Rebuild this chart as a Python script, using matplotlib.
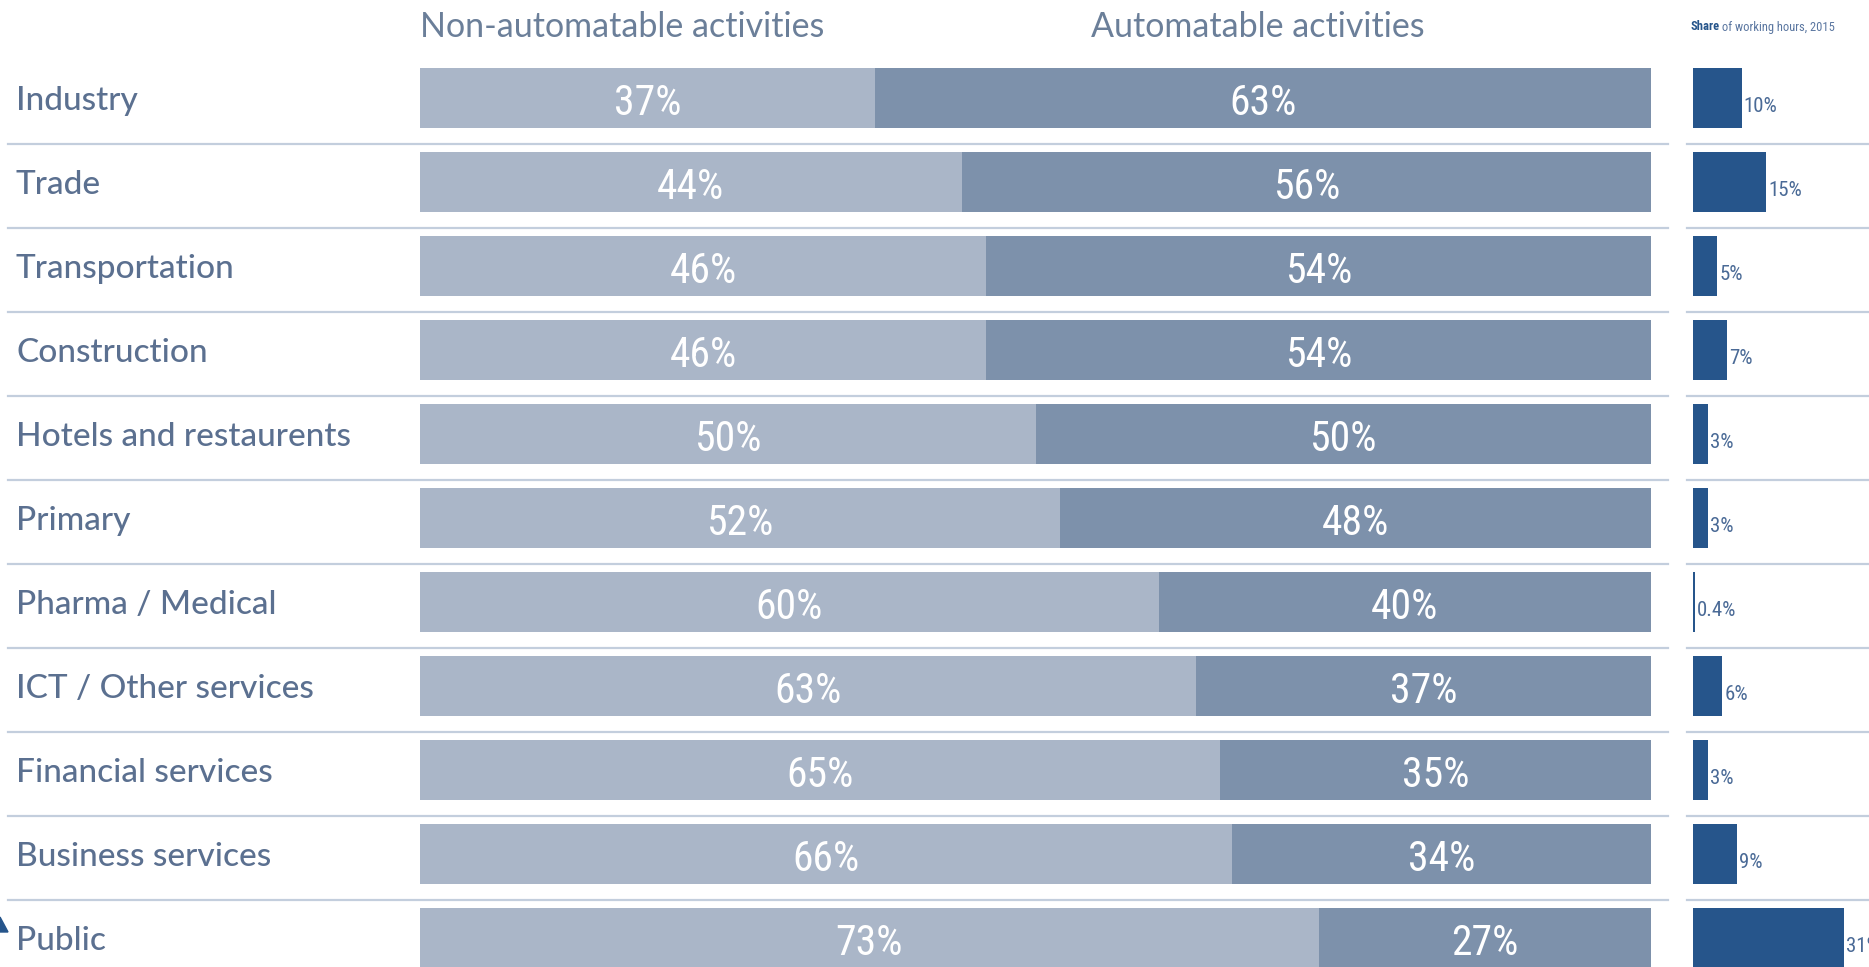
import matplotlib
matplotlib.use('Agg')
import matplotlib.pyplot as plt
import matplotlib.transforms as mtransforms
from matplotlib.patches import Polygon

categories = ['Industry', 'Trade', 'Transportation', 'Construction',
              'Hotels and restaurents', 'Primary', 'Pharma / Medical',
              'ICT / Other services', 'Financial services',
              'Business services', 'Public']
non_auto = [37, 44, 46, 46, 50, 52, 60, 63, 65, 66, 73]
auto = [63, 56, 54, 54, 50, 48, 40, 37, 35, 34, 27]
share_hours = [10, 15, 5, 7, 3, 3, 0.4, 6, 3, 9, 31]
share_labels = ['10%', '15%', '5%', '7%', '3%', '3%', '0.4%', '6%', '3%', '9%', '31%']
headers = ['Non-automatable activities', 'Automatable activities']

light = '#aab6c8'
dark = '#7d91ab'
navy = '#26558b'
text_col = '#5b7090'
line_col = '#c3cedd'
narrow = ['Roboto Condensed', 'Liberation Sans Narrow', 'DejaVu Sans']

W, H = 1869, 967
fig = plt.figure(figsize=(W / 100, H / 100), dpi=100)

rows = list(range(len(categories)))
ax = fig.add_axes([420 / W, 1 - 980 / H, 1231 / W, (980 - 55.7) / H])
ax.barh(rows, non_auto, height=0.71, color=light)
ax.barh(rows, auto, left=non_auto, height=0.71, color=dark)
ax.set_xlim(0, 100)
ax.set_ylim(10.5, -0.5)
ax.axis('off')

for i in rows:
    ax.text(non_auto[i] / 2, i + 0.07, f'{non_auto[i]}%', ha='center', va='center',
            color='white', fontsize=30, family=narrow)
    ax.text(non_auto[i] + auto[i] / 2, i + 0.07, f'{auto[i]}%', ha='center', va='center',
            color='white', fontsize=30, family=narrow)

trans = mtransforms.blended_transform_factory(fig.transFigure, ax.transData)
for i in rows:
    ax.text(16 / W, i + 0.04, categories[i], transform=trans, ha='left', va='center',
            fontsize=24, family='Lato', weight='medium', color=text_col)
for i in rows[:-1]:
    ax.plot([8 / W, 1668 / W], [i + 0.55, i + 0.55], transform=trans,
            color=line_col, lw=1.6, clip_on=False)
    ax.plot([1687 / W, 1.0], [i + 0.55, i + 0.55], transform=trans,
            color=line_col, lw=1.6, clip_on=False)

# right panel
rax = fig.add_axes([1693 / W, 1 - 980 / H, 170 / W, (980 - 55.7) / H])
rax.barh(rows, share_hours, height=0.71, color=navy)
rax.set_xlim(0, 35)
rax.set_ylim(10.5, -0.5)
rax.axis('off')
for i in rows:
    rax.annotate(share_labels[i], (share_hours[i], i + 0.1), xytext=(1.5, 0),
                 textcoords='offset points', ha='left', va='center',
                 fontsize=15, family=narrow, color='#4a6a96', annotation_clip=False)

# headers
fig.text(420 / W, 1 - 27 / H, headers[0], ha='left', va='center',
         fontsize=24.5, family='Lato', color='#6b7f99')
fig.text(1258 / W, 1 - 27 / H, headers[1], ha='center', va='center',
         fontsize=24.5, family='Lato', color='#6b7f99')
t1 = fig.text(1690 / W, 1 - 27 / H, 'Share', ha='left', va='center',
              fontsize=9, family=narrow, weight='bold', color=navy)
plt.annotate(' of working hours, 2015', xy=(1, 0), xycoords=t1,
             ha='left', va='bottom', fontsize=9, family=narrow,
             color='#5a76a0')

# small corner marker
fig.patches.append(Polygon([(0, 1 - 917 / H), (8 / W, 1 - 932 / H), (0, 1 - 932 / H)],
                           closed=True, transform=fig.transFigure, color=navy))

fig.savefig('out.png', dpi=100, facecolor='white')
